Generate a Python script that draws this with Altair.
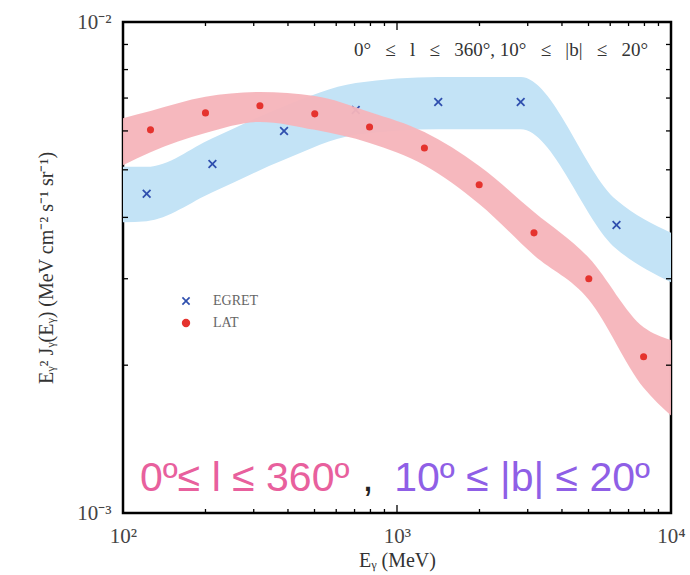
import altair as alt
import pandas as pd

# EGRET points (bin centres, MeV) and E^2 J values
egret_e = [122, 212, 387, 707, 1414, 2828, 6325]
egret_f = [4.47e-3, 5.14e-3, 6.00e-3, 6.62e-3, 6.87e-3, 6.87e-3, 3.86e-3]

# LAT points
lat_e = [126, 200, 316, 501, 794, 1259, 1995, 3162, 5012, 7943]
lat_f = [6.03e-3, 6.53e-3, 6.75e-3, 6.50e-3, 6.11e-3, 5.54e-3, 4.66e-3, 3.72e-3, 3.00e-3, 2.08e-3]

# EGRET systematic band
egret_band_e = [100, 122, 212, 387, 707, 1414, 2828, 6325, 10000]
egret_band_lo = [3.91e-3, 3.93e-3, 4.50e-3, 5.24e-3, 5.89e-3, 6.05e-3, 6.05e-3, 3.45e-3, 2.95e-3]
egret_band_hi = [5.07e-3, 5.07e-3, 5.80e-3, 6.74e-3, 7.51e-3, 7.73e-3, 7.73e-3, 4.34e-3, 3.72e-3]

# LAT systematic band
lat_band_e = [100, 126, 200, 316, 501, 794, 1259, 1995, 3162, 5012, 7943, 10000]
lat_band_lo = [5.11e-3, 5.43e-3, 5.94e-3, 6.26e-3, 6.03e-3, 5.67e-3, 5.11e-3, 4.26e-3, 3.35e-3, 2.72e-3, 1.80e-3, 1.58e-3]
lat_band_hi = [6.37e-3, 6.59e-3, 7.04e-3, 7.20e-3, 7.07e-3, 6.56e-3, 5.97e-3, 5.09e-3, 4.10e-3, 3.31e-3, 2.39e-3, 2.25e-3]

# Tick positions
x_major = [100, 1000, 10000]
x_minor = [200, 300, 400, 500, 600, 700, 800, 900,
           2000, 3000, 4000, 5000, 6000, 7000, 8000, 9000]
y_major = [0.001, 0.01]
y_minor = [0.002, 0.003, 0.004, 0.005, 0.006, 0.007, 0.008, 0.009]

series_names = ["EGRET", "LAT"]
series_colors = ["#2f4fae", "#e5332e"]
x_shape = "M-1,-0.72L-0.72,-1L0,-0.28L0.72,-1L1,-0.72L0.28,0L1,0.72L0.72,1L0,0.28L-0.72,1L-1,0.72L-0.28,0Z"

W, H = 548, 491
SERIF = "Liberation Serif"
SP = "\u2002 "  # wider gap around the relation signs

xs = alt.Scale(type="log", domain=[100, 10000], nice=False)
ys = alt.Scale(type="log", domain=[0.001, 0.01], nice=False)

x_axis = alt.Axis(
    values=x_major, title="Eᵧ (MeV)",
    labelExpr="datum.value == 100 ? '10²' : datum.value == 1000 ? '10³' : '10⁴'",
    grid=False, domain=False, ticks=False, tickSize=0, labelFlush=False,
    labelPadding=12, labelFont=SERIF, labelFontSize=21, labelColor="#444",
    titleFont=SERIF, titleFontSize=20, titleFontWeight="normal", titleColor="#333",
    titleY=47, titleBaseline="middle",
)
y_axis = alt.Axis(
    values=y_major, title="Eᵧ² Jᵧ(Eᵧ) (MeV cm⁻² s⁻¹ sr⁻¹)",
    labelExpr="datum.value == 0.01 ? '10⁻²' : '10⁻³'",
    grid=False, domain=False, ticks=False, tickSize=0, labelFlush=False,
    labelPadding=12, labelFont=SERIF, labelFontSize=21, labelColor="#444",
    titleFont=SERIF, titleFontSize=20, titleFontWeight="normal", titleColor="#333",
    titleX=-77, titleY=H / 2, titleAngle=-90, titleBaseline="middle", titleAlign="center",
)


def X(field):
    return alt.X(field, type="quantitative", scale=xs, axis=x_axis)


def Y(field):
    return alt.Y(field, type="quantitative", scale=ys, axis=y_axis)


egret_band = pd.DataFrame({"E": egret_band_e, "lo": egret_band_lo, "hi": egret_band_hi})
lat_band = pd.DataFrame({"E": lat_band_e, "lo": lat_band_lo, "hi": lat_band_hi})
egret = pd.DataFrame({"E": egret_e, "F": egret_f, "series": "EGRET"})
lat = pd.DataFrame({"E": lat_e, "F": lat_f, "series": "LAT"})

color = alt.Color("series:N", scale=alt.Scale(domain=series_names, range=series_colors),
                  legend=alt.Legend(title=None))
shape = alt.Shape("series:N", scale=alt.Scale(domain=series_names, range=[x_shape, "circle"]),
                  legend=alt.Legend(title=None))

blue_band = alt.Chart(egret_band).mark_area(
    color="#c3e3f6", interpolate="monotone"
).encode(x=X("E"), y=Y("lo"), y2="hi")

red_band = alt.Chart(lat_band).mark_area(
    color="#f6b4bb", opacity=0.95, interpolate="monotone"
).encode(x=X("E"), y=Y("lo"), y2="hi")

egret_pts = alt.Chart(egret).mark_point(filled=True, size=80, opacity=1).encode(
    x=X("E"), y=Y("F"), color=color, shape=shape)

lat_pts = alt.Chart(lat).mark_point(filled=True, size=50, opacity=1).encode(
    x=X("E"), y=Y("F"), color=color, shape=shape)

# inward ticks on all four sides of the frame
xmaj = pd.DataFrame({"v": x_major})
xmin = pd.DataFrame({"v": x_minor})
ymaj = pd.DataFrame({"v": y_major})
ymin = pd.DataFrame({"v": y_minor})


def xticks(df, length):
    bottom = alt.Chart(df).mark_rule(color="black", strokeWidth=1.3).encode(
        x=X("v"), y=alt.value(H), y2=alt.value(H - length))
    top = alt.Chart(df).mark_rule(color="black", strokeWidth=1.3).encode(
        x=X("v"), y=alt.value(0), y2=alt.value(length))
    return [bottom, top]


def yticks(df, length):
    left = alt.Chart(df).mark_rule(color="black", strokeWidth=1.3).encode(
        y=Y("v"), x=alt.value(0), x2=alt.value(length))
    right = alt.Chart(df).mark_rule(color="black", strokeWidth=1.3).encode(
        y=Y("v"), x=alt.value(W), x2=alt.value(W - length))
    return [left, right]


tick_layers = xticks(xmaj, 8) + xticks(xmin, 4) + yticks(ymaj, 8) + yticks(ymin, 5)

# region labels
region_text = "0°" + SP + "≤" + SP + "l" + SP + "≤" + SP + "360°,  10°" + SP + "≤" + SP + "|b|" + SP + "≤" + SP + "20°"
region_small = alt.Chart(pd.DataFrame({"t": [region_text]})).mark_text(
    align="right", baseline="middle", font=SERIF, fontSize=19, color="#333"
).encode(x=alt.value(525), y=alt.value(28), text="t:N")

big_l = alt.Chart(pd.DataFrame({"t": ["0º≤ l ≤ 360º"]})).mark_text(
    align="left", baseline="alphabetic", font="Liberation Sans", fontSize=41, color="#e8609d"
).encode(x=alt.value(17), y=alt.value(469), text="t:N")

big_comma = alt.Chart(pd.DataFrame({"t": [","]})).mark_text(
    align="center", baseline="alphabetic", font="Liberation Sans", fontSize=41, color="#222"
).encode(x=alt.value(245), y=alt.value(469), text="t:N")

big_b = alt.Chart(pd.DataFrame({"t": ["10º ≤ |b| ≤ 20º"]})).mark_text(
    align="right", baseline="alphabetic", font="Liberation Sans", fontSize=41, color="#8f5fe6"
).encode(x=alt.value(527), y=alt.value(469), text="t:N")

chart = alt.layer(
    blue_band, egret_pts, red_band, lat_pts, *tick_layers,
    region_small, big_l, big_comma, big_b
).properties(
    width=W, height=H,
    autosize=alt.AutoSizeParams(type="none"),
    padding={"left": 123, "top": 22, "right": 19, "bottom": 62},
    background="white",
).configure_view(
    stroke="black", strokeWidth=2.5
).configure_legend(
    orient="none", legendX=56, legendY=272, padding=0,
    symbolSize=70, symbolStrokeWidth=0, labelFont=SERIF, labelFontSize=14,
    labelColor="#666", labelOffset=20, rowPadding=8,
)

chart.save("out.html", embed_options={"renderer": "svg", "actions": False})
